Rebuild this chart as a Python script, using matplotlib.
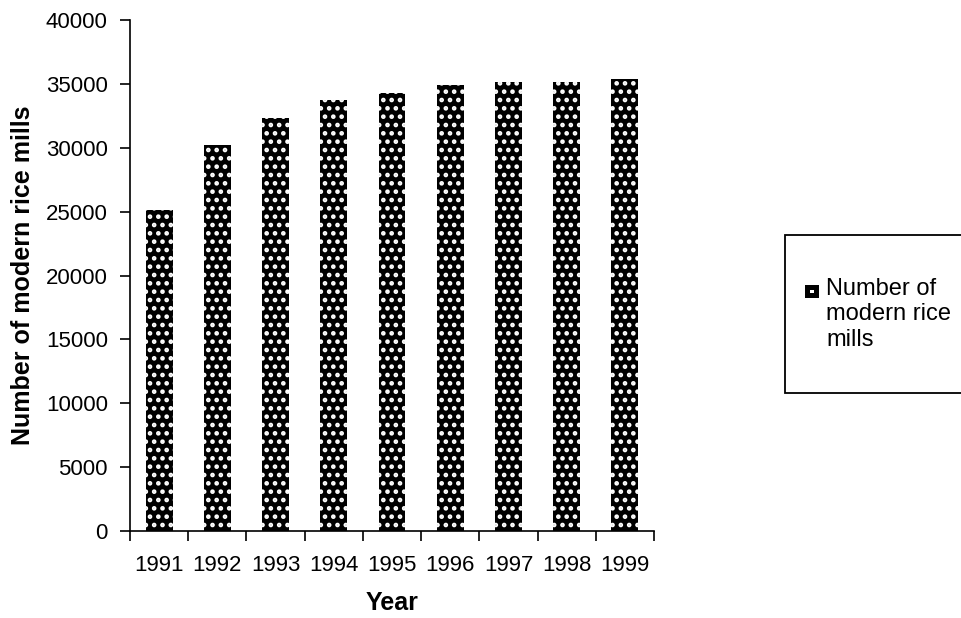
import numpy as np
import matplotlib
matplotlib.use("Agg")
import matplotlib.pyplot as plt
from matplotlib.patches import Rectangle

plt.rcParams['font.family'] = ['Liberation Sans', 'DejaVu Sans']
plt.rcParams['hatch.linewidth'] = 2.1

# data
years = ['1991', '1992', '1993', '1994', '1995', '1996', '1997', '1998', '1999']
mills = [25100, 30250, 32300, 33700, 34250, 34950, 35150, 35150, 35350]
series_name = 'Number of\nmodern rice\nmills'

W, H = 962, 618
fig = plt.figure(figsize=(W / 100, H / 100), dpi=100)
ax = fig.add_axes([130 / W, 1 - 531 / H, 524 / W, 511 / H])

x = np.arange(len(years))
ax.bar(x, mills, width=0.46, color='black', edgecolor='white',
       linewidth=0, hatch='..')

ax.set_xlim(-0.5, len(years) - 0.5)
ax.set_ylim(0, 40000)
ax.set_yticks(np.arange(0, 40001, 5000))

# category labels centred, ticks between categories
ax.set_xticks(x)
ax.set_xticklabels(years)
ax.tick_params(axis='x', which='major', length=0, pad=17, labelsize=16)
ax.set_xticks(np.arange(-0.5, len(years)), minor=True)
ax.tick_params(axis='x', which='minor', length=7, width=1.2, direction='out')
ax.tick_params(axis='y', length=7, width=1.2, pad=9, labelsize=16)

for side in ['top', 'right']:
    ax.spines[side].set_visible(False)
for side in ['left', 'bottom']:
    ax.spines[side].set_linewidth(1.2)

ax.set_xlabel('Year', fontsize=18, fontweight='bold', labelpad=11)
ax.set_ylabel('Number of modern rice mills', fontsize=18, fontweight='bold',
              labelpad=8)

# legend box, key and text
fig.patches.append(Rectangle((785 / W, 1 - 393 / H), 0.25, 158 / H,
                             transform=fig.transFigure, facecolor='white',
                             edgecolor='black', linewidth=1.3))
fig.patches.append(Rectangle((805 / W, 1 - 298 / H), 14 / W, 13 / H,
                             transform=fig.transFigure, facecolor='black',
                             edgecolor='none'))
fig.patches.append(Rectangle((810 / W, 1 - 293 / H), 4 / W, 3 / H,
                             transform=fig.transFigure, facecolor='white',
                             edgecolor='none'))
fig.text(826 / W, 1 - 278 / H, series_name, ha='left', va='top',
         fontsize=17, linespacing=1.2)

fig.savefig('out.png', dpi=100)
